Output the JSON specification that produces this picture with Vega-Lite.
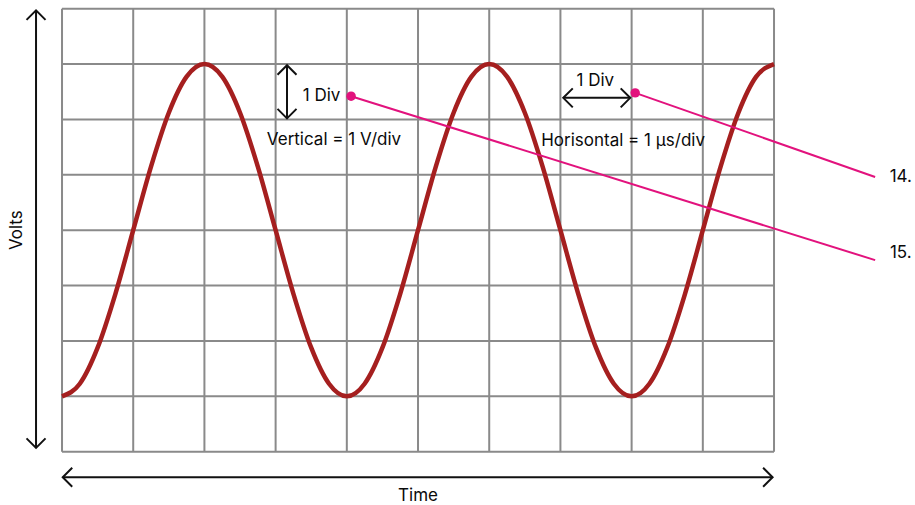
{
  "$schema": "https://vega.github.io/schema/vega-lite/v6.json",
  "width": 915,
  "height": 505,
  "padding": 0,
  "autosize": {"type": "fit", "contains": "padding"},
  "background": "white",
  "config": {"view": {"stroke": null}, "axis": {"disable": true}},
  "datasets": {
    "wave": [
      {"t": 0, "v": 1}, {"t": 0.25, "v": 1.228}, {"t": 0.5, "v": 1.879}, {"t": 0.75, "v": 2.852},
      {"t": 1, "v": 4}, {"t": 1.25, "v": 5.148}, {"t": 1.5, "v": 6.121}, {"t": 1.75, "v": 6.772},
      {"t": 2, "v": 7}, {"t": 2.25, "v": 6.772}, {"t": 2.5, "v": 6.121}, {"t": 2.75, "v": 5.148},
      {"t": 3, "v": 4}, {"t": 3.25, "v": 2.852}, {"t": 3.5, "v": 1.879}, {"t": 3.75, "v": 1.228},
      {"t": 4, "v": 1}, {"t": 4.25, "v": 1.228}, {"t": 4.5, "v": 1.879}, {"t": 4.75, "v": 2.852},
      {"t": 5, "v": 4}, {"t": 5.25, "v": 5.148}, {"t": 5.5, "v": 6.121}, {"t": 5.75, "v": 6.772},
      {"t": 6, "v": 7}, {"t": 6.25, "v": 6.772}, {"t": 6.5, "v": 6.121}, {"t": 6.75, "v": 5.148},
      {"t": 7, "v": 4}, {"t": 7.25, "v": 2.852}, {"t": 7.5, "v": 1.879}, {"t": 7.75, "v": 1.228},
      {"t": 8, "v": 1}, {"t": 8.25, "v": 1.228}, {"t": 8.5, "v": 1.879}, {"t": 8.75, "v": 2.852},
      {"t": 9, "v": 4}, {"t": 9.25, "v": 5.148}, {"t": 9.5, "v": 6.121}, {"t": 9.75, "v": 6.772},
      {"t": 10, "v": 7}
    ],
    "grid": [
      {"x": 0, "y": 0, "x2": 0, "y2": 8}, {"x": 1, "y": 0, "x2": 1, "y2": 8},
      {"x": 2, "y": 0, "x2": 2, "y2": 8}, {"x": 3, "y": 0, "x2": 3, "y2": 8},
      {"x": 4, "y": 0, "x2": 4, "y2": 8}, {"x": 5, "y": 0, "x2": 5, "y2": 8},
      {"x": 6, "y": 0, "x2": 6, "y2": 8}, {"x": 7, "y": 0, "x2": 7, "y2": 8},
      {"x": 8, "y": 0, "x2": 8, "y2": 8}, {"x": 9, "y": 0, "x2": 9, "y2": 8},
      {"x": 10, "y": 0, "x2": 10, "y2": 8},
      {"x": 0, "y": 0, "x2": 10, "y2": 0}, {"x": 0, "y": 1, "x2": 10, "y2": 1},
      {"x": 0, "y": 2, "x2": 10, "y2": 2}, {"x": 0, "y": 3, "x2": 10, "y2": 3},
      {"x": 0, "y": 4, "x2": 10, "y2": 4}, {"x": 0, "y": 5, "x2": 10, "y2": 5},
      {"x": 0, "y": 6, "x2": 10, "y2": 6}, {"x": 0, "y": 7, "x2": 10, "y2": 7},
      {"x": 0, "y": 8, "x2": 10, "y2": 8}
    ],
    "shafts": [
      {"x": -0.365, "y": 0.07, "x2": -0.365, "y2": 7.97},
      {"x": 0.01, "y": -0.46, "x2": 9.98, "y2": -0.46},
      {"x": 3.16, "y": 6.02, "x2": 3.16, "y2": 6.98},
      {"x": 7.04, "y": 6.39, "x2": 7.98, "y2": 6.39}
    ],
    "heads": [
      {"x": -0.365, "y": 7.97, "dir": 0}, {"x": -0.365, "y": 0.07, "dir": 180},
      {"x": 0.01, "y": -0.46, "dir": 270}, {"x": 9.98, "y": -0.46, "dir": 90},
      {"x": 3.16, "y": 6.98, "dir": 0}, {"x": 3.16, "y": 6.02, "dir": 180},
      {"x": 7.04, "y": 6.39, "dir": 270}, {"x": 7.98, "y": 6.39, "dir": 90}
    ],
    "leaders": [
      {"x": 4.06, "y": 6.42, "x2": 11.42, "y2": 3.46},
      {"x": 8.05, "y": 6.48, "x2": 11.42, "y2": 4.96}
    ],
    "labels": [
      {"x": 3.645, "y": 6.42, "text": "1 Div"},
      {"x": 7.49, "y": 6.69, "text": "1 Div"},
      {"x": 3.82, "y": 5.63, "text": "Vertical = 1 V/div"},
      {"x": 7.88, "y": 5.61, "text": "Horisontal = 1 μs/div"},
      {"x": 11.78, "y": 4.96, "text": "14."},
      {"x": 11.78, "y": 3.59, "text": "15."},
      {"x": 5.0, "y": -0.8, "text": "Time"}
    ],
    "vlabel": [
      {"x": -0.632, "y": 4.0, "text": "Volts"}
    ]
  },
  "layer": [
    {
      "data": {"name": "grid"},
      "mark": {"type": "rule", "color": "#8a8a8a", "strokeWidth": 2},
      "encoding": {
        "x": {"field": "x", "type": "quantitative", "scale": {"domain": [-0.871, 11.98], "nice": false, "zero": false}, "axis": null},
        "y": {"field": "y", "type": "quantitative", "scale": {"domain": [-0.962, 8.157], "nice": false, "zero": false}, "axis": null},
        "x2": {"field": "x2"},
        "y2": {"field": "y2"}
      }
    },
    {
      "data": {"name": "wave"},
      "mark": {"type": "line", "color": "#a51f1f", "strokeWidth": 4.5, "interpolate": "monotone"},
      "encoding": {
        "x": {"field": "t", "type": "quantitative", "axis": null},
        "y": {"field": "v", "type": "quantitative", "axis": null}
      }
    },
    {
      "data": {"name": "shafts"},
      "mark": {"type": "rule", "color": "#111111", "strokeWidth": 2},
      "encoding": {
        "x": {"field": "x", "type": "quantitative", "axis": null},
        "y": {"field": "y", "type": "quantitative", "axis": null},
        "x2": {"field": "x2"},
        "y2": {"field": "y2"}
      }
    },
    {
      "data": {"name": "heads"},
      "mark": {"type": "point", "shape": "M-1,1L0,0L1,1", "size": 361, "filled": false, "color": "#111111", "strokeWidth": 2, "opacity": 1},
      "encoding": {
        "x": {"field": "x", "type": "quantitative", "axis": null},
        "y": {"field": "y", "type": "quantitative", "axis": null},
        "angle": {"field": "dir", "type": "quantitative", "scale": null}
      }
    },
    {
      "data": {"name": "leaders"},
      "mark": {"type": "rule", "color": "#e2127d", "strokeWidth": 2},
      "encoding": {
        "x": {"field": "x", "type": "quantitative", "axis": null},
        "y": {"field": "y", "type": "quantitative", "axis": null},
        "x2": {"field": "x2"},
        "y2": {"field": "y2"}
      }
    },
    {
      "data": {"name": "leaders"},
      "mark": {"type": "point", "filled": true, "color": "#e2127d", "size": 90, "opacity": 1},
      "encoding": {
        "x": {"field": "x", "type": "quantitative", "axis": null},
        "y": {"field": "y", "type": "quantitative", "axis": null}
      }
    },
    {
      "data": {"name": "labels"},
      "mark": {"type": "text", "font": "Inter", "fontSize": 17, "color": "#0a0a0a", "align": "center", "baseline": "middle"},
      "encoding": {
        "x": {"field": "x", "type": "quantitative", "axis": null},
        "y": {"field": "y", "type": "quantitative", "axis": null},
        "text": {"field": "text"}
      }
    },
    {
      "data": {"name": "vlabel"},
      "mark": {"type": "text", "font": "Inter", "fontSize": 17, "color": "#0a0a0a", "align": "center", "baseline": "middle", "angle": 270},
      "encoding": {
        "x": {"field": "x", "type": "quantitative", "axis": null},
        "y": {"field": "y", "type": "quantitative", "axis": null},
        "text": {"field": "text"}
      }
    }
  ]
}
